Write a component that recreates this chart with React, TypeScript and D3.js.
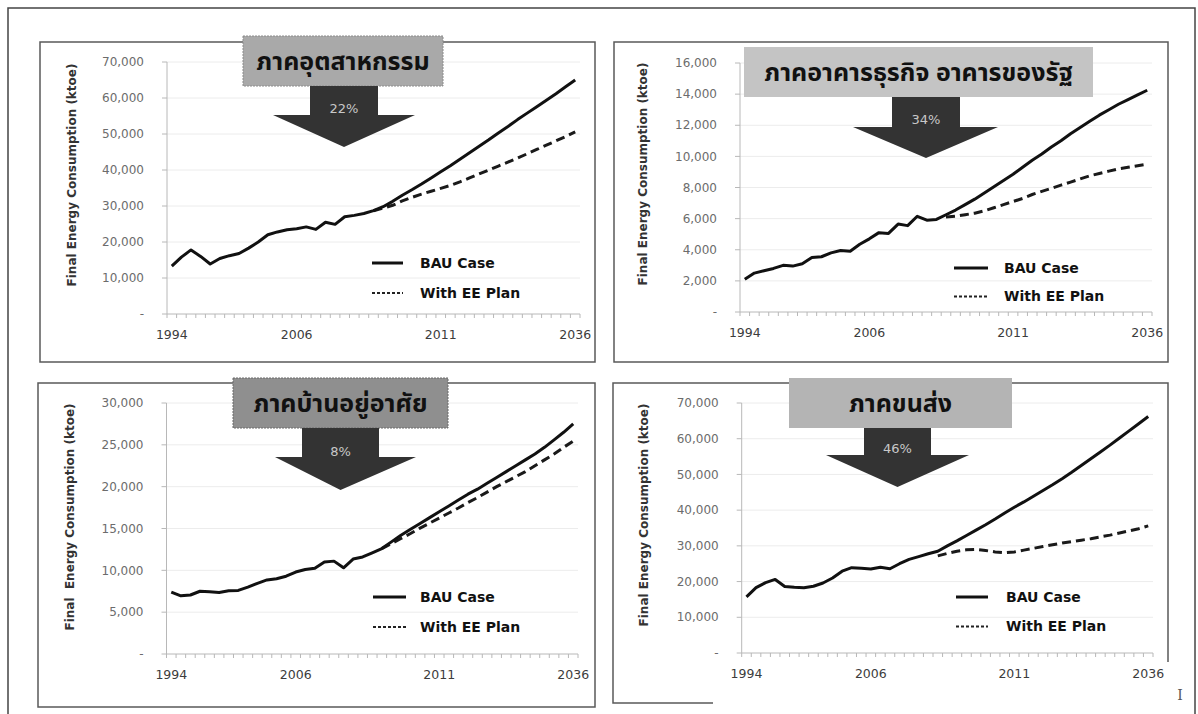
import * as d3 from 'd3';
import * as React from 'react';

// categories on the x axis (one per year)
const years = d3.range(1994, 2037);
// where the four printed labels sit, and what they say
const xTickYears = [1994, 2007, 2022, 2036];
const xTickLabels = ['1994', '2006', '2011', '2036'];

const seriesNames = ['BAU Case', 'With EE Plan'];

// industry
const industryBau = [
  13300, 15800, 17800, 16000, 13900, 15400, 16200, 16800, 18300, 20000,
  22000, 22800, 23400, 23700, 24200, 23500, 25500, 24900, 27000, 27400,
  27900, 28700, 29800, 31300, 33000, 34500, 36100, 37800, 39500, 41200,
  43000, 44800, 46600, 48400, 50300, 52100, 54000, 55800, 57600, 59400,
  61200, 63100, 65000,
];
const industryEeFrom = 2015;
const industryEe = [
  28700, 29400, 30200, 31400, 32400, 33300, 34100, 34900, 35700, 36700,
  37800, 38900, 40000, 41100, 42200, 43300, 44500, 45700, 46900, 48100,
  49300, 50600,
];

// commercial & government buildings
const buildingBau = [
  2100, 2500, 2650, 2800, 3000, 2950, 3100, 3500, 3550, 3800,
  3950, 3900, 4350, 4700, 5100, 5050, 5650, 5550, 6150, 5900,
  5950, 6250, 6550, 6900, 7250, 7650, 8050, 8450, 8850, 9300,
  9750, 10150, 10600, 11000, 11450, 11850, 12250, 12650, 13000, 13350,
  13650, 13950, 14250,
];
const buildingEeFrom = 2015;
const buildingEe = [
  6100, 6150, 6250, 6350, 6500, 6700, 6900, 7100, 7300, 7550,
  7750, 7950, 8150, 8350, 8550, 8750, 8900, 9050, 9200, 9300,
  9400, 9500,
];

// residential
const homeBau = [
  7400, 6950, 7050, 7500, 7450, 7350, 7550, 7600, 8000, 8450,
  8850, 9000, 9300, 9800, 10100, 10250, 11000, 11100, 10300, 11350,
  11600, 12100, 12600, 13400, 14200, 14900, 15600, 16300, 17000, 17700,
  18400, 19100, 19700, 20400, 21100, 21800, 22500, 23200, 23900, 24700,
  25600, 26500, 27500,
];
const homeEeFrom = 2016;
const homeEe = [
  12600, 13200, 13800, 14400, 15050, 15650, 16250, 16850, 17450, 18100,
  18700, 19350, 20000, 20600, 21200, 21800, 22500, 23200, 23900, 24700,
  25450,
];

// transport
const transportBau = [
  15700, 18300, 19700, 20600, 18600, 18400, 18300, 18700, 19600, 21000,
  22900, 23900, 23700, 23500, 24000, 23600, 25000, 26200, 27000, 27800,
  28500, 30000, 31400, 32900, 34400, 35900, 37500, 39200, 40800, 42300,
  43900, 45500, 47100, 48800, 50600, 52500, 54400, 56300, 58200, 60200,
  62200, 64200, 66200,
];
const transportEeFrom = 2014;
const transportEe = [
  27200, 27900, 28500, 28900, 29000, 28700, 28300, 28100, 28300, 28800,
  29300, 29800, 30300, 30800, 31200, 31600, 32000, 32500, 33000, 33600,
  34200, 34800, 35600,
];

const panelTitles = ['ภาคอุตสาหกรรม', 'ภาคอาคารธุรกิจ อาคารของรัฐ', 'ภาคบ้านอยู่อาศัย', 'ภาคขนส่ง'];
const panelCuts = ['22%', '34%', '8%', '46%'];
const yMaxes = [70000, 16000, 30000, 70000];
const ySteps = [10000, 2000, 5000, 10000];
const yTitles = [
  'Final Energy Consumption (ktoe)',
  'Final Energy Consumption (ktoe)',
  'Final  Energy Consumption (ktoe)',
  'Final Energy Consumption (ktoe)',
];

const FONT = "'DejaVu Sans', Verdana, sans-serif";
const THAI = "'Noto Sans Thai', 'Loma', 'Garuda', 'Tahoma', sans-serif";

interface ILayout {
  frame: string;
  plot: { x0: number; x1: number; y0: number; y1: number };
  yTitle: { x: number; y: number };
  legend: { x0: number; x1: number; tx: number; y: number; dy: number };
  box: { x: number; y: number; w: number; h: number; fill: string; stroke?: string };
  titleSize: number;
  arrow: { rx0: number; rx1: number; ry0: number; sy: number; tx0: number; tx1: number; tip: number };
}

const layouts: ILayout[] = [
  {
    frame: 'M40,42H595V362H40Z',
    plot: { x0: 167, x1: 580, y0: 62, y1: 314 },
    yTitle: { x: 72, y: 175 },
    legend: { x0: 372, x1: 403, tx: 420, y: 263, dy: 30 },
    box: { x: 243, y: 36, w: 200, h: 50, fill: '#a9a9a9', stroke: '#8c8c8c' },
    titleSize: 25,
    arrow: { rx0: 310, rx1: 378, ry0: 86, sy: 115, tx0: 273, tx1: 415, tip: 147 },
  },
  {
    frame: 'M614,42H1168V362H614Z',
    plot: { x0: 740, x1: 1152, y0: 63, y1: 312 },
    yTitle: { x: 643, y: 174 },
    legend: { x0: 954, x1: 988, tx: 1004, y: 268, dy: 28.5 },
    box: { x: 744, y: 47, w: 349, h: 50, fill: '#c4c4c4' },
    titleSize: 25,
    arrow: { rx0: 892, rx1: 960, ry0: 97, sy: 127, tx0: 853, tx1: 998, tip: 158 },
  },
  {
    frame: 'M38,383H595V707H38Z',
    plot: { x0: 166.5, x1: 578, y0: 403, y1: 654 },
    yTitle: { x: 70, y: 517 },
    legend: { x0: 373, x1: 406, tx: 420, y: 597, dy: 30 },
    box: { x: 233, y: 378, w: 215, h: 50, fill: '#8f8f8f', stroke: '#6a6a6a' },
    titleSize: 25,
    arrow: { rx0: 302, rx1: 379, ry0: 428, sy: 457, tx0: 275, tx1: 416, tip: 490 },
  },
  {
    frame: 'M713,703H613V383H1168V662',
    plot: { x0: 741.7, x1: 1153, y0: 403, y1: 653 },
    yTitle: { x: 644, y: 515 },
    legend: { x0: 956, x1: 988, tx: 1006, y: 597, dy: 29.5 },
    box: { x: 789, y: 378, w: 223, h: 50, fill: '#b4b4b4' },
    titleSize: 25,
    arrow: { rx0: 864, rx1: 931, ry0: 428, sy: 455, tx0: 826, tx1: 969, tip: 487 },
  },
];

interface IPanelProps {
  idx: number;
  bau: number[];
  ee: number[];
  eeFrom: number;
}

const Panel = ({ idx, bau, ee, eeFrom }: IPanelProps) => {
  const L = layouts[idx];
  const { x0, x1, y0, y1 } = L.plot;
  const yMax = yMaxes[idx];

  const band = d3.scaleBand<number>().domain(years).range([x0, x1]);
  const x = (yr: number) => (band(yr) as number) + band.bandwidth() / 2;
  const y = d3.scaleLinear().domain([0, yMax]).range([y1, y0]);
  const yTicks = d3.range(0, yMax + 1, ySteps[idx]);

  const line = d3.line<[number, number]>().x((d) => x(d[0])).y((d) => y(d[1]));
  const bauPts: [number, number][] = bau.map((v, i) => [years[i], v]);
  const eePts: [number, number][] = ee.map((v, i) => [eeFrom + i, v]);

  const a = L.arrow;
  const cx = (a.rx0 + a.rx1) / 2;
  const arrowPath = `M${a.rx0},${a.ry0}H${a.rx1}V${a.sy}H${a.tx1}L${cx},${a.tip}L${a.tx0},${a.sy}H${a.rx0}Z`;

  const fmt = d3.format(',');
  const bounds = [...years.map((yr) => band(yr) as number), x1];

  return (
    <g>
      <path d={L.frame} fill="none" stroke="#5a5a5a" strokeWidth={1.5} />

      {yTicks.slice(1).map((t) => (
        <line key={'g' + t} x1={x0} x2={x1} y1={y(t)} y2={y(t)} stroke="#ececec" strokeWidth={1} />
      ))}

      <line x1={x0} x2={x0} y1={y0} y2={y1} stroke="#b8b8b8" strokeWidth={1} />
      {yTicks.map((t) => (
        <g key={'y' + t}>
          <line x1={x0 - 5} x2={x0} y1={y(t)} y2={y(t)} stroke="#b8b8b8" />
          <text x={x0 - 23} y={y(t)} dy="0.35em" textAnchor="end" fontFamily={FONT} fontSize={12} fill="#6c6c6c">
            {t === 0 ? '-' : fmt(t)}
          </text>
        </g>
      ))}

      <line x1={x0} x2={x1} y1={y1} y2={y1} stroke="#b8b8b8" strokeWidth={1} />
      {bounds.map((bx, i) => (
        <line key={'xt' + i} x1={bx} x2={bx} y1={y1} y2={y1 + 4} stroke="#b8b8b8" />
      ))}
      {xTickYears.map((yr, i) => (
        <text key={'xl' + yr} x={x(yr)} y={y1 + 25} textAnchor="middle" fontFamily={FONT} fontSize={12.5} fill="#3c3c3c">
          {xTickLabels[i]}
        </text>
      ))}

      <text
        transform={`translate(${L.yTitle.x},${L.yTitle.y}) rotate(-90)`}
        textAnchor="middle"
        dy="0.35em"
        fontFamily={FONT}
        fontSize={12}
        fontWeight="bold"
        fill="#333"
        style={{ whiteSpace: 'pre' }}
      >
        {yTitles[idx]}
      </text>

      <path d={line(eePts) || ''} fill="none" stroke="#1a1a1a" strokeWidth={3} strokeDasharray="9 5" />
      <path d={line(bauPts) || ''} fill="none" stroke="#111" strokeWidth={3} strokeLinejoin="round" />

      <line x1={L.legend.x0} x2={L.legend.x1} y1={L.legend.y} y2={L.legend.y} stroke="#111" strokeWidth={3} />
      <text x={L.legend.tx} y={L.legend.y} dy="0.35em" fontFamily={FONT} fontSize={14} fontWeight="bold" fill="#111">
        {seriesNames[0]}
      </text>
      <line
        x1={L.legend.x0}
        x2={L.legend.x1}
        y1={L.legend.y + L.legend.dy}
        y2={L.legend.y + L.legend.dy}
        stroke="#222"
        strokeWidth={2}
        strokeDasharray="3 2"
      />
      <text x={L.legend.tx} y={L.legend.y + L.legend.dy} dy="0.35em" fontFamily={FONT} fontSize={14} fontWeight="bold" fill="#111">
        {seriesNames[1]}
      </text>

      <rect
        x={L.box.x}
        y={L.box.y}
        width={L.box.w}
        height={L.box.h}
        fill={L.box.fill}
        stroke={L.box.stroke || 'none'}
        strokeDasharray="2 1"
      />
      <text
        x={L.box.x + L.box.w / 2}
        y={L.box.y + L.box.h / 2}
        dy="0.35em"
        textAnchor="middle"
        fontFamily={THAI}
        fontSize={L.titleSize}
        fontWeight="bold"
        fill="#111"
      >
        {panelTitles[idx]}
      </text>

      <path d={arrowPath} fill="#333" />
      <text x={cx} y={a.tip - 39} dy="0.35em" textAnchor="middle" fontFamily={FONT} fontSize={13} fill="#c8c8c8">
        {panelCuts[idx]}
      </text>
    </g>
  );
};

export default function App() {
  return (
    <div style={{ position: 'absolute', left: 0, top: 0 }}>
      <svg width={1198} height={714} viewBox="0 0 1198 714" style={{ display: 'block', background: '#fff' }}>
        <rect x={8} y={8} width={1187} height={720} fill="none" stroke="#444" strokeWidth={1.5} />
        <Panel idx={0} bau={industryBau} ee={industryEe} eeFrom={industryEeFrom} />
        <Panel idx={1} bau={buildingBau} ee={buildingEe} eeFrom={buildingEeFrom} />
        <Panel idx={2} bau={homeBau} ee={homeEe} eeFrom={homeEeFrom} />
        <Panel idx={3} bau={transportBau} ee={transportEe} eeFrom={transportEeFrom} />
        <text x={1180} y={700} textAnchor="middle" fontFamily="'DejaVu Serif', serif" fontSize={14} fill="#555">
          I
        </text>
      </svg>
    </div>
  );
}
